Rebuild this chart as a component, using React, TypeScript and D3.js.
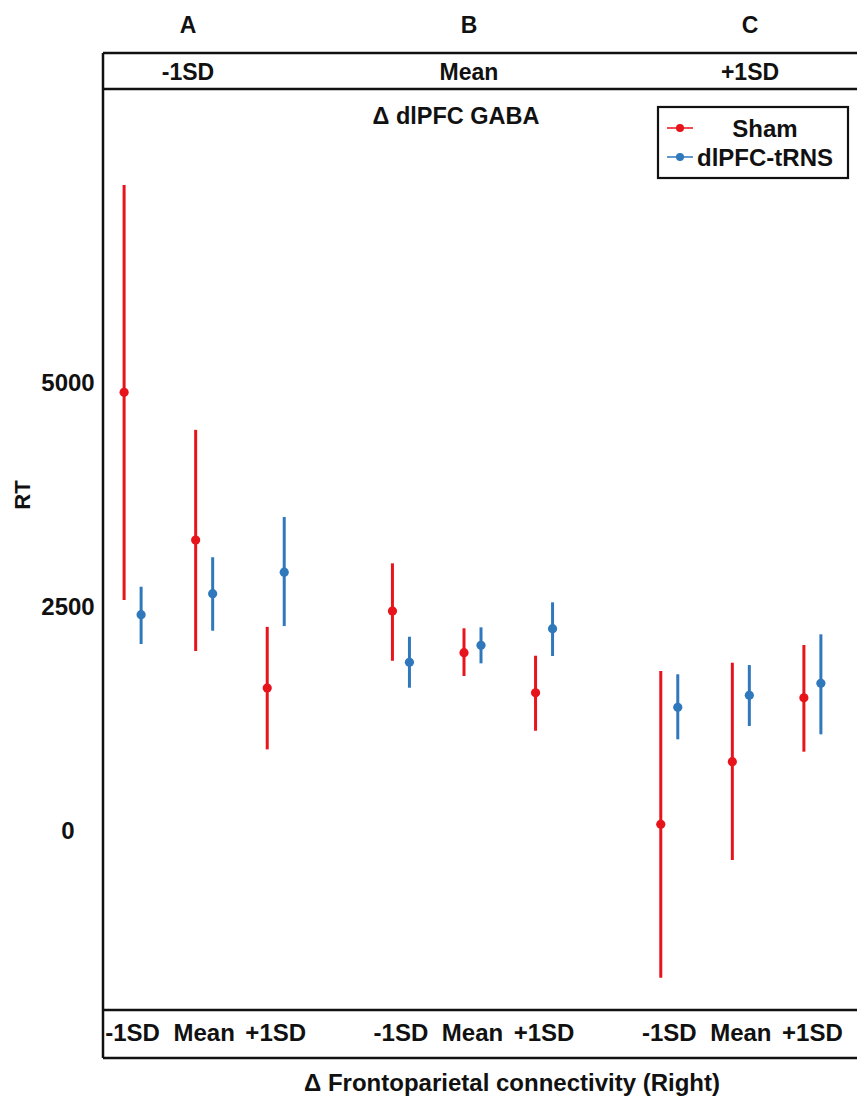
import React from 'react';
import * as d3 from 'd3';

// panel letters (top) and the GABA level shown in each panel
const panels = ['A', 'B', 'C'];
const gabaLevels = ['-1SD', 'Mean', '+1SD'];
// x categories inside each panel (frontoparietal connectivity)
const connLevels = ['-1SD', 'Mean', '+1SD'];
const seriesNames = ['Sham', 'dlPFC-tRNS'];
const seriesColors = ['#e8141c', '#2f78bb'];
const yTicks = [0, 2500, 5000];

// estimates in panel order A(-1SD, Mean, +1SD), B(...), C(...)
const shamFit = [4885, 3236, 1585, 2444, 1979, 1532, 64, 762, 1476];
const shamLower = [2567, 1998, 900, 1889, 1719, 1108, -1648, -335, 874];
const shamUpper = [7200, 4466, 2267, 2976, 2251, 1945, 1774, 1867, 2065];

const trnsFit = [2403, 2638, 2877, 1872, 2061, 2247, 1369, 1503, 1637];
const trnsLower = [2076, 2224, 2276, 1588, 1860, 1942, 1012, 1161, 1068];
const trnsUpper = [2715, 3044, 3493, 2157, 2262, 2541, 1738, 1841, 2184];

const W = 857;
const H = 1097;
const font = '"Liberation Sans", Arial, sans-serif';

const frame = { left: 103, right: 870, top: 53, strip: 89, bottom: 1010, strip2: 1058 };

export default function App() {
  const y = d3.scaleLinear().domain([0, 5000]).range([830, 382]);

  const outer = d3.scaleBand<string>().domain(panels).range([70, 875]);
  const inner = d3.scalePoint<string>().domain(connLevels).range([0, outer.bandwidth()]).padding(0.875);
  const dodge = d3.scalePoint<string>().domain(seriesNames).range([-8.5, 8.5]);
  const header = d3.scalePoint<string>().domain(panels).range([188, 750]);

  const rows = shamFit.map((_, i) => {
    const panel = panels[Math.floor(i / 3)];
    const level = connLevels[i % 3];
    return {
      panel,
      level,
      x: (outer(panel) ?? 0) + (inner(level) ?? 0),
      values: [
        { s: seriesNames[0], fit: shamFit[i], lo: shamLower[i], hi: shamUpper[i] },
        { s: seriesNames[1], fit: trnsFit[i], lo: trnsLower[i], hi: trnsUpper[i] },
      ],
    };
  });

  const color = d3.scaleOrdinal<string, string>().domain(seriesNames).range(seriesColors);

  return (
    <div style={{ position: 'absolute', left: 0, top: 0 }}>
      <svg width={W} height={H} style={{ display: 'block', background: '#fff' }} fontFamily={font} fontWeight="bold">
        {/* panel letters */}
        {panels.map(p => (
          <text key={p} x={header(p)} y={33} fontSize={23} textAnchor="middle" fill="#111">{p}</text>
        ))}

        {/* frame and strips */}
        <g stroke="#111" strokeWidth={2.5} fill="none">
          <line x1={frame.left} x2={frame.right} y1={frame.top} y2={frame.top} />
          <line x1={frame.left} x2={frame.right} y1={frame.strip} y2={frame.strip} />
          <line x1={frame.left} x2={frame.right} y1={frame.bottom} y2={frame.bottom} />
          <line x1={frame.left} x2={frame.right} y1={frame.strip2} y2={frame.strip2} />
          <line x1={frame.left} x2={frame.left} y1={frame.top} y2={frame.strip2} />
        </g>
        {panels.map((p, i) => (
          <text key={p} x={header(p)} y={80} fontSize={23} textAnchor="middle" fill="#111">{gabaLevels[i]}</text>
        ))}
        <text x={456} y={124} fontSize={23.5} textAnchor="middle" fill="#111">Δ dlPFC GABA</text>

        {/* y axis */}
        {yTicks.map(t => (
          <text key={t} x={68} y={y(t) + 8.5} fontSize={24} textAnchor="middle" fill="#111">{t}</text>
        ))}
        <text transform={`translate(30,495) rotate(-90)`} fontSize={22} textAnchor="middle" fill="#111">RT</text>

        {/* error bars */}
        {rows.map(r => (
          <g key={r.panel + r.level}>
            {r.values.map(v => {
              const cx = r.x + (dodge(v.s) ?? 0);
              return (
                <g key={v.s}>
                  <line x1={cx} x2={cx} y1={y(v.lo)} y2={y(v.hi)} stroke={color(v.s)} strokeWidth={3} />
                  <circle cx={cx} cy={y(v.fit)} r={4.6} fill={color(v.s)} />
                </g>
              );
            })}
          </g>
        ))}

        {/* bottom category labels */}
        {rows.map(r => (
          <text key={'l' + r.panel + r.level} x={r.x} y={1041} fontSize={24} textAnchor="middle" fill="#111">{r.level}</text>
        ))}
        <text x={512} y={1091} fontSize={24} textAnchor="middle" fill="#111">Δ Frontoparietal connectivity (Right)</text>

        {/* legend */}
        <rect x={658} y={107} width={190} height={71} fill="#fff" stroke="#111" strokeWidth={2.2} />
        {seriesNames.map((s, i) => (
          <g key={s} transform={`translate(0,${128 + i * 29})`}>
            <line x1={667} x2={693} y1={0} y2={0} stroke={color(s)} strokeWidth={2} opacity={0.75} />
            <circle cx={680} cy={0} r={4} fill={color(s)} />
            <text x={765} y={8.5} fontSize={24} textAnchor="middle" fill="#111">{s}</text>
          </g>
        ))}
      </svg>
    </div>
  );
}
